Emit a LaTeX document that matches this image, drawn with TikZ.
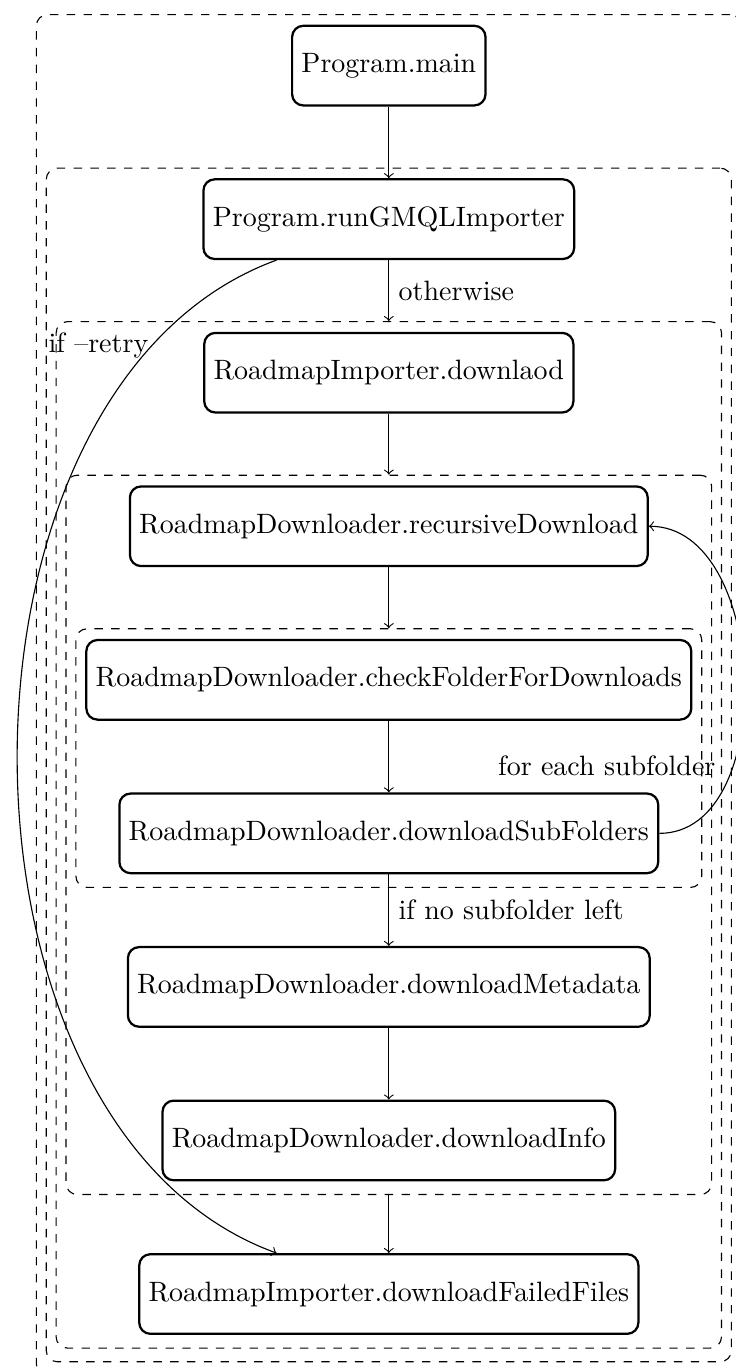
\documentclass[tikz,border=0pt]{standalone}
\usetikzlibrary{arrows,positioning,fit}

\begin{document}
\begin{tikzpicture}[
    node distance=0.9cm,
    block/.style={draw, thick, rounded corners, minimum height=1cm},
    group/.style={draw, dashed, rounded corners, inner xsep=3.33pt, inner ysep=4.15pt, yshift=-0.54pt},
    flow/.style={->}
  ]
  \node[block] (main) {Program.main};
  \node[block, below=of main] (gmql) {Program.runGMQLImporter};
  \node[block, below=of gmql] (download) {RoadmapImporter.downlaod};
  \node[block, below=of download] (recursive) {RoadmapDownloader.recursiveDownload};
  \node[block, below=of recursive] (check) {RoadmapDownloader.checkFolderForDownloads};
  \node[block, below=of check] (subfolders) {RoadmapDownloader.downloadSubFolders};
  \node[block, below=of subfolders] (metadata) {RoadmapDownloader.downloadMetadata};
  \node[block, below=of metadata] (info) {RoadmapDownloader.downloadInfo};
  \node[block, below=of info] (failed) {RoadmapImporter.downloadFailedFiles};

  \node[group, fit=(check) (subfolders)] (foldergroup) {};
  \node[group, fit=(recursive) (foldergroup) (metadata) (info)] (downloadgroup) {};
  \node[group, fit=(download) (downloadgroup) (failed)] (importgroup) {};
  \node[group, fit=(gmql) (importgroup)] (runnergroup) {};
  \node[group, fit=(main) (runnergroup)] (maingroup) {};

  \draw[flow] (main) -- (gmql);
  \draw[flow] (gmql) -- node[right] (otherwise) {otherwise} (importgroup);
  \draw[flow] (download) -- (downloadgroup);
  \draw[flow] (recursive) -- (foldergroup);
  \draw[flow] (check) -- (subfolders);
  \draw[flow] (subfolders) -- node[right] (noleft) {if no subfolder left} (metadata);
  \draw[flow] (metadata) -- (info);
  \draw[flow] (downloadgroup) -- (failed);

  \draw[flow] (gmql) to[bend right=70, looseness=0.95] node[pos=0.14, left, inner xsep=1pt] (retry) {if --retry} (failed);
  \draw[flow] (subfolders.east) to[out=0, in=0] node[pos=0.25, above left] (foreach) {for each subfolder} (recursive.east);

  \pgfresetboundingbox
  \useasboundingbox ([xshift=-12.8pt, yshift=5pt]maingroup.north west)
    rectangle ([xshift=-2.1pt, yshift=2.5pt]maingroup.south east);
\end{tikzpicture}
\end{document}
